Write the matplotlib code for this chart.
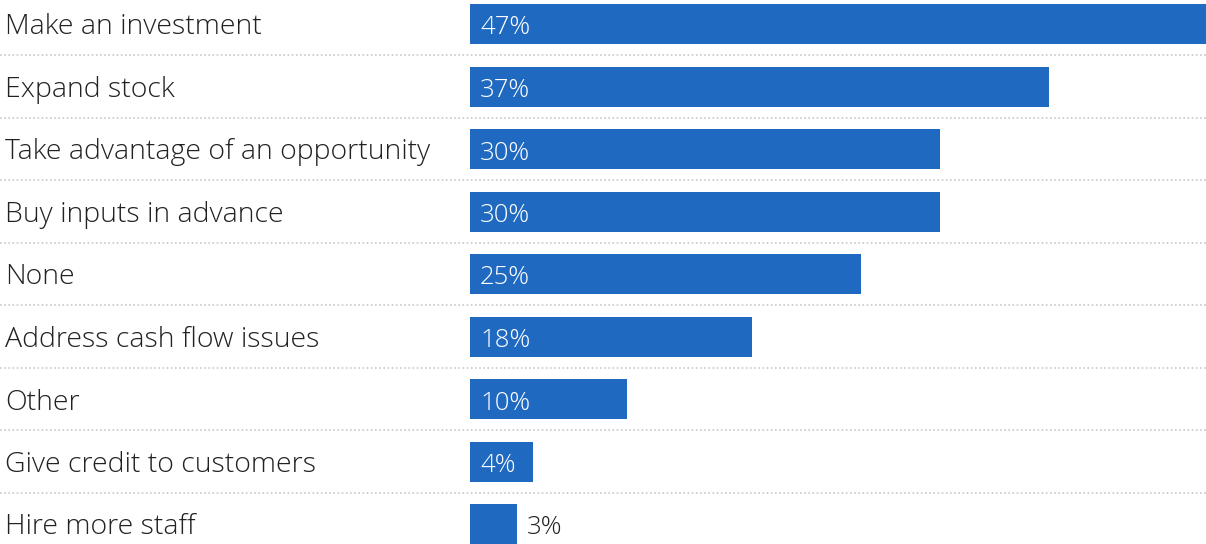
import matplotlib
matplotlib.use("Agg")
import matplotlib.pyplot as plt

categories = ["Make an investment", "Expand stock", "Take advantage of an opportunity",
              "Buy inputs in advance", "None", "Address cash flow issues", "Other",
              "Give credit to customers", "Hire more staff"]
values = [47, 37, 30, 30, 25, 18, 10, 4, 3]

plt.rcParams['font.family'] = ['Open Sans', 'DejaVu Sans']

W, H = 1206, 544
fig = plt.figure(figsize=(W / 100, H / 100), dpi=100)
ax = fig.add_axes([0, 0, 1, 1], frameon=False)
ax.set_xticks([])
ax.set_yticks([])

# bars start at 470 px and the largest reaches the right edge
px_per_unit = (W - 470) / max(values)
ax.set_xlim(-470 / px_per_unit, max(values))
row_px = 62.5
ax.set_ylim((H - 24) / row_px, -24 / row_px)

blue = "#1F69C1"
ys = range(len(categories))
ax.barh(ys, values, height=0.64, color=blue, left=0)

# baseline sits half a cap height below the row centre
base = 10.5 / row_px
label_x = ax.get_xlim()[0] + 5 / px_per_unit
for y, cat, v in zip(ys, categories, values):
    ax.text(label_x, y + base, cat, va="baseline", ha="left", fontsize=20.5,
            color="#222222", fontweight="light")
    if v >= 4:
        ax.text(10 / px_per_unit, y + base, f"{v}%", va="baseline", ha="left",
                fontsize=18.5, color="white", fontweight="light")
    else:
        ax.text(v + 10 / px_per_unit, y + base, f"{v}%", va="baseline", ha="left",
                fontsize=18.5, color="#222222", fontweight="light")
    if y < len(categories) - 1:
        ax.axhline(y + 0.5, color="#c8c8c8", linestyle=(0, (1, 1.5)), linewidth=1.2)

fig.savefig("out.png", dpi=100)
